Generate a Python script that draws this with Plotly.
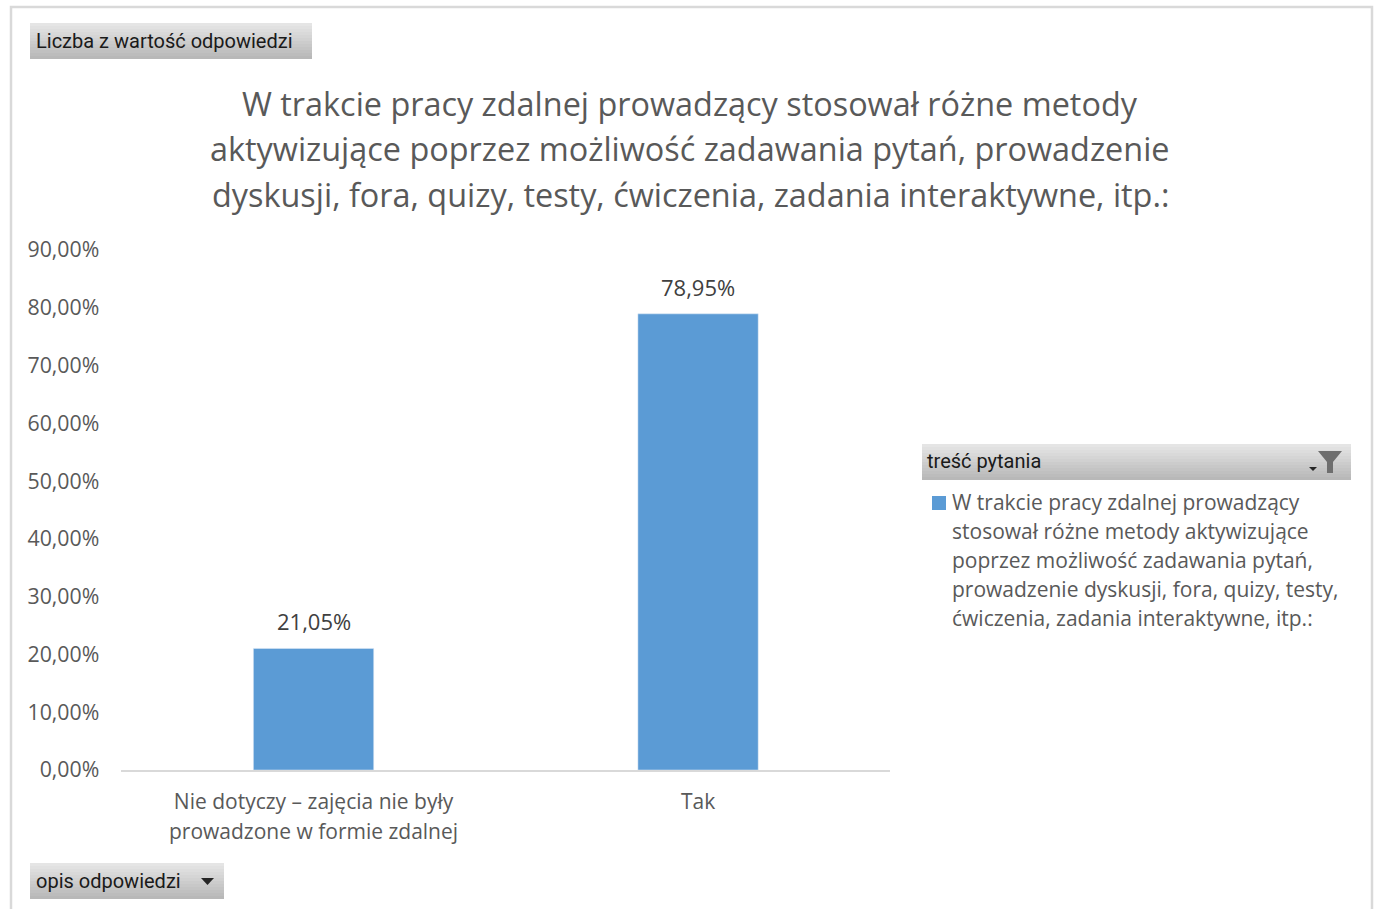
import plotly.graph_objects as go

W, H = 1379, 909
categories = ["Nie dotyczy – zajęcia nie były prowadzone w formie zdalnej", "Tak"]
category_lines = [["Nie dotyczy – zajęcia nie były", "prowadzone w formie zdalnej"], ["Tak"]]
values = [0.2105, 0.7895]
value_labels = ["21,05%", "78,95%"]
title_lines = [
    "W trakcie pracy zdalnej prowadzący stosował różne metody",
    "aktywizujące poprzez możliwość zadawania pytań, prowadzenie",
    "dyskusji, fora, quizy, testy, ćwiczenia, zadania interaktywne, itp.:",
]
legend_lines = [
    "W trakcie pracy zdalnej prowadzący",
    "stosował różne metody aktywizujące",
    "poprzez możliwość zadawania pytań,",
    "prowadzenie dyskusji, fora, quizy, testy,",
    "ćwiczenia, zadania interaktywne, itp.:",
]
series_name = " ".join(legend_lines)
TXT = "#595959"
BAR = "#5B9BD5"
FONT = "Open Sans"
BTN = "Roboto"

def px(x): return x / W
def py(y): return 1 - y / H

fig = go.Figure(go.Bar(x=categories, y=values, name=series_name, marker_color=BAR,
                       width=0.313, showlegend=False))
shapes = []
annotations = []

# outer frame
shapes.append(dict(type="rect", xref="paper", yref="paper", x0=px(11), x1=px(1372), y0=py(7), y1=py(920),
                   line=dict(color="#D9D9D9", width=2.5), fillcolor="white", layer="below"))

def button(x0, y0, x1, y1, label, size, pad):
    n = 12
    top, bot = (229, 229, 229), (184, 184, 184)
    for i in range(n):
        t = i / (n - 1)
        c = tuple(round(top[k] + (bot[k] - top[k]) * t) for k in range(3))
        ya = y0 + (y1 - y0) * i / n
        yb = y0 + (y1 - y0) * (i + 1) / n
        shapes.append(dict(type="rect", xref="paper", yref="paper", x0=px(x0), x1=px(x1), y0=py(ya), y1=py(yb),
                           line=dict(width=0), fillcolor="rgb(%d,%d,%d)" % c, layer="below"))
    annotations.append(dict(text=label, xref="paper", yref="paper", x=px(x0 + pad), y=py((y0 + y1) / 2 - 0.5),
                            xanchor="left", yanchor="middle", showarrow=False,
                            font=dict(family=BTN, size=size, color="#1a1a1a")))

button(30, 23, 312, 59, "Liczba z wartość odpowiedzi", 20, 4)
button(30, 863, 224, 899, "opis odpowiedzi", 20, 4)
button(922, 444, 1351, 480, "treść pytania", 20, 3)

def poly(pts, color):
    d = "M" + " L".join(f"{px(a):.5f},{py(b):.5f}" for a, b in pts) + " Z"
    shapes.append(dict(type="path", xref="paper", yref="paper", path=d, fillcolor=color, line=dict(width=0)))

poly([(201, 878), (214, 878), (207.5, 885)], "#262626")
poly([(1309, 467), (1317, 467), (1313, 471)], "#262626")
poly([(1318, 451), (1342, 451), (1333, 462), (1333, 473), (1327, 473), (1327, 462)], "#6e6e6e")

# title lines
for y, line in zip([103, 148, 194], title_lines):
    annotations.append(dict(text=line, xref="paper", yref="paper", x=px(690), y=py(y), xanchor="center",
                            yanchor="middle", showarrow=False, font=dict(family=FONT, size=32.4, color=TXT)))

# legend
shapes.append(dict(type="rect", xref="paper", yref="paper", x0=px(932), x1=px(946), y0=py(496), y1=py(510),
                   fillcolor=BAR, line=dict(width=0)))
for y, line in zip([502, 531, 560, 589, 618], legend_lines):
    annotations.append(dict(text=line, xref="paper", yref="paper", x=px(950), y=py(y), xanchor="left",
                            yanchor="middle", showarrow=False, font=dict(family=FONT, size=21, color=TXT)))

# data labels
for c, v, lab in zip(categories, values, value_labels):
    annotations.append(dict(text=lab, x=c, y=v, xref="x", yref="y", yanchor="bottom", showarrow=False, yshift=10,
                            font=dict(family=FONT, size=22, color="#404040")))

ticktext = ["<br>".join(f'<span style="font-size:21px">{s}</span>' for s in lines) for lines in category_lines]

fig.update_layout(
    width=W, height=H, margin=dict(l=0, r=0, t=0, b=0, autoexpand=False),
    paper_bgcolor="white", plot_bgcolor="white", separators=", ",
    shapes=shapes, annotations=annotations, bargap=0.687,
    xaxis=dict(domain=[px(121.3), px(890.3)], showline=True, linecolor="#D9D9D9", linewidth=2, ticks="",
               tickmode="array", tickvals=categories, ticktext=ticktext,
               showgrid=False, tickfont=dict(family=FONT, size=23, color=TXT), ticklabelstandoff=9),
    yaxis=dict(domain=[py(770), py(250)], range=[0, 0.9], dtick=0.1, tickformat=".2%", showgrid=False,
               zeroline=False, ticks="", tickfont=dict(family=FONT, size=21.3, color=TXT), ticklabelstandoff=21),
)
fig.write_html("out.html", config=dict(displayModeBar=False),
               post_script="document.body.style.margin='0';document.body.style.overflow='hidden';")
